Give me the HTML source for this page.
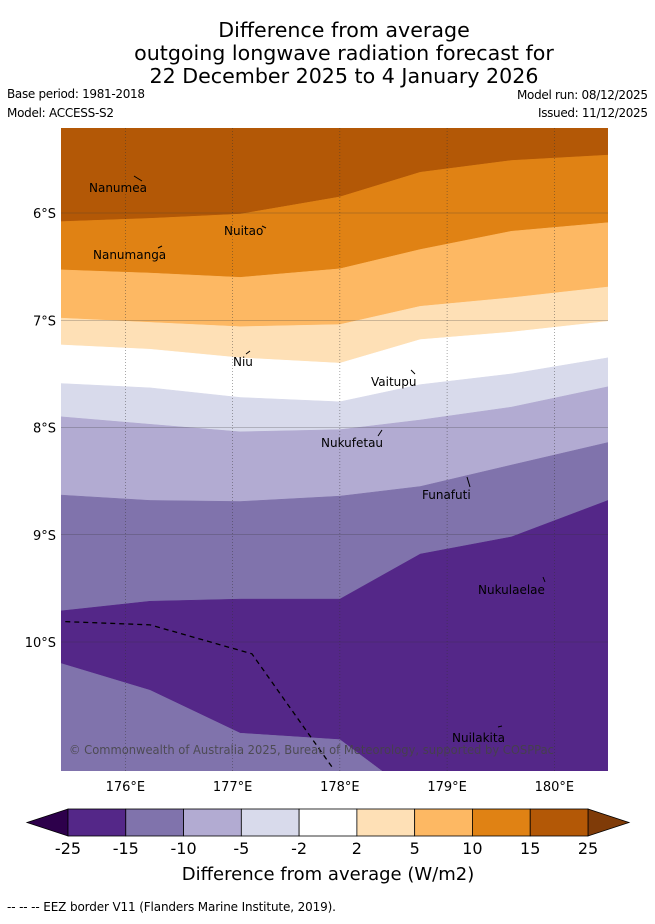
<!DOCTYPE html>
<html><head><meta charset="utf-8"><style>
body{margin:0;background:#fff;font-family:"Liberation Sans","DejaVu Sans",sans-serif;}
svg text{font-family:"DejaVu Sans","Liberation Sans",sans-serif;}
</style></head><body>
<svg id="c" width="655" height="919" xmlns="http://www.w3.org/2000/svg">
<text x="344" y="37" font-size="20.6" text-anchor="middle">Difference from average</text>
<text x="344" y="60" font-size="20.6" text-anchor="middle">outgoing longwave radiation forecast for</text>
<text x="344" y="83" font-size="20.6" text-anchor="middle">22 December 2025 to 4 January 2026</text>
<text x="7" y="98" font-size="12" textLength="138">Base period: 1981-2018</text>
<text x="7" y="117" font-size="12" textLength="107">Model: ACCESS-S2</text>
<text x="648" y="99" font-size="12" text-anchor="end" textLength="131">Model run: 08/12/2025</text>
<text x="648" y="117" font-size="12" text-anchor="end" textLength="110">Issued: 11/12/2025</text>
<defs><clipPath id="mc"><rect x="61" y="128" width="547" height="643"/></clipPath></defs>
<g id="map" clip-path="url(#mc)"></g>
<g id="cb"></g>
<text x="328" y="880" font-size="18" text-anchor="middle">Difference from average (W/m2)</text>
<text x="7" y="911" font-size="12" textLength="329">--  --  -- EEZ border V11 (Flanders Marine Institute, 2019).</text>
</svg>
<script>
const lons=[175.4,176.23,177.07,178.0,178.75,179.6,180.5];
const b1=[6.08,6.05,6.01,5.85,5.62,5.51,5.46];
const b2=[6.53,6.56,6.60,6.52,6.34,6.17,6.09];
const b3=[6.98,7.02,7.06,7.04,6.87,6.79,6.69];
const b4=[7.23,7.27,7.35,7.40,7.18,7.11,7.01];
const b5=[7.59,7.63,7.72,7.76,7.60,7.50,7.35];
const b6=[7.90,7.97,8.04,8.02,7.93,7.81,7.62];
const b7=[8.63,8.68,8.69,8.64,8.55,8.35,8.14];
const b8=[9.71,9.62,9.60,9.60,9.18,9.02,8.68];
const b9=[10.20,10.45,10.85,10.91,11.47,12.03,12.59];
const bandColors=['#b35806','#e08214','#fdb863','#fee0b6','#ffffff','#d8daeb','#b2abd2','#8073ac','#542788','#8073ac'];
const eezLon=[175.44,176.23,177.18,177.93];
const eezLat=[9.81,9.84,10.11,11.17];
const islands=[['Nanumea',89,192,134,176,142,181],['Nuitao',224,235,262,226,266,228],['Nanumanga',93,259,158,248,162,246],['Niu',233,366,246,354,250,351],['Vaitupu',371,386,411,370,415,374],['Nukufetau',321,447,378,436,382,430],['Funafuti',422,499,467,477,470,487],['Nukulaelae',478,594,543,577,545,582],['Nuilakita',452,742,498,727,502,726]];
const cbBounds=['-25','-15','-10','-5','-2','2','5','10','15','25'];
const cbColors=['#542788','#8073ac','#b2abd2','#d8daeb','#ffffff','#fee0b6','#fdb863','#e08214','#b35806'];
const lonTicks=[176,177,178,179,180];
const latTicks=[6,7,8,9,10];
const NS='http://www.w3.org/2000/svg';
const X=l=>61+(l-175.4)*107.25;
const Y=l=>213+(l-6)*107.25;
function mk(t,a,p){const e=document.createElementNS(NS,t);for(const k in a)e.setAttribute(k,a[k]);p.appendChild(e);return e;}
const map=document.getElementById('map');
const bounds=[null,b1,b2,b3,b4,b5,b6,b7,b8,b9];
for(let i=0;i<bandColors.length;i++){
  const top=bounds[i],bot=bounds[i+1];
  let pts=[];
  if(top) lons.forEach((l,j)=>pts.push(X(l)+','+Y(top[j])));
  else {pts.push(X(lons[0])+',100');pts.push(X(lons[lons.length-1])+',100');}
  if(bot) for(let j=lons.length-1;j>=0;j--)pts.push(X(lons[j])+','+Y(bot[j]));
  else {pts.push(X(lons[lons.length-1])+',900');pts.push(X(lons[0])+',900');}
  const p=mk('polygon',{points:pts.join(' '),fill:bandColors[i],stroke:bandColors[i],'stroke-width':0.5},map);
  
  
}
lonTicks.forEach(l=>{const g=mk('line',{x1:X(l),x2:X(l),y1:128,y2:771,stroke:'#333','stroke-width':0.6,'stroke-dasharray':'1,2','stroke-opacity':0.7},map);
  
  });
latTicks.forEach(l=>{const g=mk('line',{x1:61,x2:608,y1:Y(l),y2:Y(l),stroke:'#333','stroke-width':0.6,'stroke-opacity':0.5},map);
  
  });
const eez=mk('polyline',{points:eezLon.map((l,j)=>X(l)+','+Y(eezLat[j])).join(' '),fill:'none',stroke:'#000','stroke-width':1.3,'stroke-dasharray':'5,4'},map);


islands.forEach(s=>{
  const t=mk('text',{x:s[1],y:s[2],'font-size':12},map);t.textContent=s[0];
  
  
  const m=mk('line',{x1:s[3],y1:s[4],x2:s[5],y2:s[6],stroke:'#000','stroke-width':1},map);
  
  
});
const cr=mk('text',{x:69,y:754,'font-size':12,fill:'#444','fill-opacity':0.85,textLength:485,lengthAdjust:'spacingAndGlyphs'},map);
cr.textContent='© Commonwealth of Australia 2025, Bureau of Meteorology, supported by COSPPac';


const svg=document.getElementById('c');
lonTicks.forEach(l=>{const t=mk('text',{x:X(l),y:791,'font-size':13,'text-anchor':'middle'},svg);t.textContent=l+'°E';
  
  });
latTicks.forEach(l=>{const t=mk('text',{x:56,y:Y(l)+5,'font-size':13,'text-anchor':'end'},svg);t.textContent=l+'°S';
  
  });
const cb=document.getElementById('cb');
const cx0=68,cx1=588,cy=809,ch=27;
const segW=(cx1-cx0)/cbColors.length;
const lt=mk('polygon',{points:`27,${cy+ch/2} ${cx0},${cy} ${cx0},${cy+ch}`,fill:'#2d004b',stroke:'#000','stroke-width':0.8},cb);


const rt=mk('polygon',{points:`${cx1},${cy} ${cx1+41},${cy+ch/2} ${cx1},${cy+ch}`,fill:'#7f3b08',stroke:'#000','stroke-width':0.8},cb);


cbColors.forEach((c,i)=>{const r=mk('rect',{x:cx0+i*segW,y:cy,width:segW,height:ch,fill:c,stroke:'#000','stroke-width':0.8},cb);
  
  });
cbBounds.forEach((b,i)=>{const t=mk('text',{x:cx0+i*segW,y:854,'font-size':16,'text-anchor':'middle'},cb);t.textContent=b;
  
  });
</script>
</body></html>
